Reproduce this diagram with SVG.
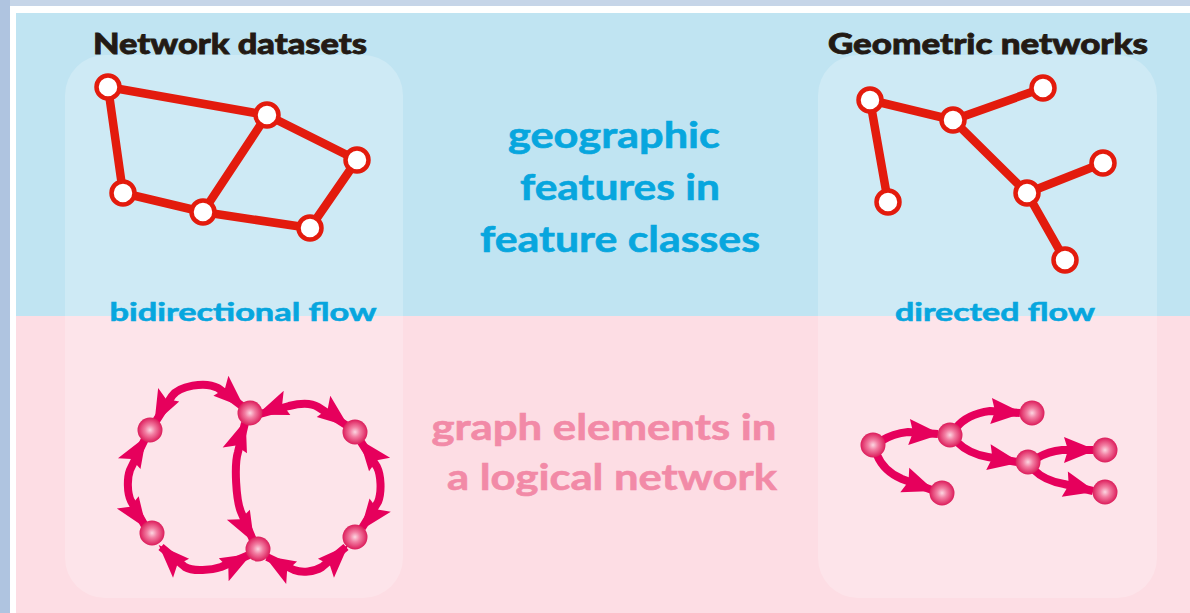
<svg xmlns="http://www.w3.org/2000/svg" width="1190" height="613" viewBox="0 0 1190 613">
  <style>
    .title { font-family: Lato, "Open Sans", "Liberation Sans", sans-serif; font-weight: 900; fill: #231a14; stroke: #231a14; stroke-width: 0.8; font-size: 29px; }
    .blue { font-family: Lato, "Open Sans", "Liberation Sans", sans-serif; font-weight: 700; fill: #07a6de; stroke: #07a6de; stroke-width: 0.6; }
    .pink { font-family: Lato, "Open Sans", "Liberation Sans", sans-serif; font-weight: 700; fill: #f28aa7; stroke: #f28aa7; stroke-width: 0.6; }
    .big { font-size: 36px; }
    .flow { font-size: 25px; }
    .edge { fill: none; stroke: #e31b0d; stroke-width: 8.5; stroke-linecap: round; }
    .junc { fill: #ffffff; stroke: #e31b0d; stroke-width: 4.5; }
    .arc { fill: none; stroke: #e6005c; stroke-width: 8; stroke-linejoin: round; }
    .ball { fill: url(#ballFill); }
    .panel { fill: #ffffff; fill-opacity: 0.22; }
    .head { fill: #e6005c; }
  </style>
  <defs>
    <radialGradient id="ballFill" cx="50%" cy="50%" r="50%">
      <stop offset="0" stop-color="#fcd6e1"/>
      <stop offset="0.4" stop-color="#f27ea2"/>
      <stop offset="1" stop-color="#dc1c5b"/>
    </radialGradient>
    <!-- two-way arrowheads: wider barb on the -y or on the +y side of the marker axis -->
    <marker id="headNeg" viewBox="-40 -25 50 50" refX="0" refY="0" markerWidth="50" markerHeight="50" markerUnits="userSpaceOnUse" orient="auto-start-reverse">
      <path class="head" d="M3,0 L-29,-16 L-24,-3.5 L-29,9 Z"/>
    </marker>
    <marker id="headPos" viewBox="-40 -25 50 50" refX="0" refY="0" markerWidth="50" markerHeight="50" markerUnits="userSpaceOnUse" orient="auto-start-reverse">
      <path class="head" d="M3,0 L-29,16 L-24,3.5 L-29,-9 Z"/>
    </marker>
    <!-- one-way arrowhead -->
    <marker id="headFwd" viewBox="-40 -25 50 50" refX="0" refY="0" markerWidth="50" markerHeight="50" markerUnits="userSpaceOnUse" orient="auto">
      <path class="head" d="M3,0 L-29,-13 L-25,0 L-29,13 Z"/>
    </marker>
  </defs>

  <!-- page border and backdrop -->
  <rect x="0" y="0" width="1190" height="613" fill="#afc4e0"/>
  <rect x="10" y="0" width="1180" height="6" fill="#c6d5e8"/>
  <rect x="10" y="6" width="1180" height="607" fill="#ffffff"/>
  <rect x="16" y="13" width="1174" height="303" fill="#c0e4f2"/>
  <rect x="16" y="316" width="1174" height="297" fill="#fddde4"/>

  <!-- translucent column panels -->
  <rect class="panel" x="65" y="55" width="338" height="543" rx="40"/>
  <rect class="panel" x="818" y="55" width="339" height="543" rx="40"/>

  <!-- headings and captions -->
  <text class="title" x="230" y="54" text-anchor="middle" textLength="274" lengthAdjust="spacingAndGlyphs">Network datasets</text>
  <text class="title" x="988" y="54" text-anchor="middle" textLength="320" lengthAdjust="spacingAndGlyphs">Geometric networks</text>

  <text class="blue big" x="614" y="148" text-anchor="middle" textLength="212" lengthAdjust="spacingAndGlyphs">geographic</text>
  <text class="blue big" x="620" y="200" text-anchor="middle" textLength="200" lengthAdjust="spacingAndGlyphs">features in</text>
  <text class="blue big" x="620" y="252" text-anchor="middle" textLength="280" lengthAdjust="spacingAndGlyphs">feature classes</text>

  <text class="blue flow" x="243" y="321" text-anchor="middle" textLength="267" lengthAdjust="spacingAndGlyphs">bidirectional flow</text>
  <text class="blue flow" x="995" y="321" text-anchor="middle" textLength="200" lengthAdjust="spacingAndGlyphs">directed flow</text>

  <text class="pink big" x="604" y="440" text-anchor="middle" textLength="345" lengthAdjust="spacingAndGlyphs">graph elements in</text>
  <text class="pink big" x="612" y="490" text-anchor="middle" textLength="330" lengthAdjust="spacingAndGlyphs">a logical network</text>

  <!-- connectors -->
  <g id="connectors">
    <!-- network dataset edges -->
    <g id="nd-edges">
      <line class="edge" x1="108" y1="87" x2="267" y2="115"/>
      <line class="edge" x1="108" y1="87" x2="123" y2="193"/>
      <line class="edge" x1="123" y1="193" x2="203" y2="212"/>
      <line class="edge" x1="203" y1="212" x2="267" y2="115"/>
      <line class="edge" x1="267" y1="115" x2="357" y2="160"/>
      <line class="edge" x1="357" y1="160" x2="310" y2="228"/>
      <line class="edge" x1="203" y1="212" x2="310" y2="228"/>
    </g>
    <!-- geometric network edges -->
    <g id="gn-edges">
      <line class="edge" x1="870" y1="100" x2="953" y2="120"/>
      <line class="edge" x1="953" y1="120" x2="1043" y2="88"/>
      <line class="edge" x1="870" y1="100" x2="888" y2="202"/>
      <line class="edge" x1="953" y1="120" x2="1027" y2="193"/>
      <line class="edge" x1="1027" y1="193" x2="1103" y2="163"/>
      <line class="edge" x1="1027" y1="193" x2="1065" y2="260"/>
    </g>
    <!-- bidirectional logical edges: straight head runs at both ends, curved middle -->
    <g id="bi-edges">
      <path class="arc" d="M156,421 L172,396 C179,386 205,381 218,388 L242,406" marker-start="url(#headPos)" marker-end="url(#headNeg)"/>
      <path class="arc" d="M253,540 L241,512 C236,500 234,465 238,452 L245,423" marker-start="url(#headPos)" marker-end="url(#headNeg)"/>
      <path class="arc" d="M145,526 L131,501 C127,493 127,478 130,470 L145,439" marker-start="url(#headPos)" marker-end="url(#headNeg)"/>
      <path class="arc" d="M249,555 L221,567 C212,570 193,572 185,567 L161,547" marker-start="url(#headPos)" marker-end="url(#headNeg)"/>
      <path class="arc" d="M260,414 L289,406 C297,404 310,402 318,407 L346,425" marker-start="url(#headPos)" marker-end="url(#headNeg)"/>
      <path class="arc" d="M361,442 L377,467 C381,475 382,492 378,502 L362,528" marker-start="url(#headPos)" marker-end="url(#headNeg)"/>
      <path class="arc" d="M346,547 L322,567 C314,572 302,573 294,570 L267,557" marker-start="url(#headPos)" marker-end="url(#headNeg)"/>
    </g>
    <!-- directed logical edges -->
    <g id="dir-edges">
      <path class="arc" d="M881,441 C889,436 898,433 908,432 L938,434" marker-end="url(#headFwd)"/>
      <path class="arc" d="M877,455 C882,467 890,474 902,479 L932,490" marker-end="url(#headFwd)"/>
      <path class="arc" d="M956,428 C963,419 975,413 990,411 L1020,413" marker-end="url(#headFwd)"/>
      <path class="arc" d="M957,442 C965,450 976,455 988,457 L1017,462" marker-end="url(#headFwd)"/>
      <path class="arc" d="M1037,458 C1044,454 1052,451 1062,450 L1093,450" marker-end="url(#headFwd)"/>
      <path class="arc" d="M1034,470 C1042,478 1052,482 1064,484 L1093,491" marker-end="url(#headFwd)"/>
    </g>
  </g>

  <!-- network dataset junctions -->
  <g id="nd-a"><circle class="junc" cx="108" cy="87" r="11.5"/></g>
  <g id="nd-b"><circle class="junc" cx="267" cy="115" r="11.5"/></g>
  <g id="nd-c"><circle class="junc" cx="357" cy="160" r="11.5"/></g>
  <g id="nd-d"><circle class="junc" cx="123" cy="193" r="11.5"/></g>
  <g id="nd-e"><circle class="junc" cx="203" cy="212" r="11.5"/></g>
  <g id="nd-f"><circle class="junc" cx="310" cy="228" r="11.5"/></g>

  <!-- geometric network junctions -->
  <g id="gn-a"><circle class="junc" cx="870" cy="100" r="11.5"/></g>
  <g id="gn-b"><circle class="junc" cx="953" cy="120" r="11.5"/></g>
  <g id="gn-c"><circle class="junc" cx="1043" cy="88" r="11.5"/></g>
  <g id="gn-d"><circle class="junc" cx="888" cy="202" r="11.5"/></g>
  <g id="gn-e"><circle class="junc" cx="1027" cy="193" r="11.5"/></g>
  <g id="gn-f"><circle class="junc" cx="1103" cy="163" r="11.5"/></g>
  <g id="gn-g"><circle class="junc" cx="1065" cy="260" r="11.5"/></g>

  <!-- bidirectional graph elements -->
  <g id="bi-1"><circle class="ball" cx="150" cy="430" r="12.5"/></g>
  <g id="bi-2"><circle class="ball" cx="250" cy="413" r="12.5"/></g>
  <g id="bi-3"><circle class="ball" cx="355" cy="432" r="12.5"/></g>
  <g id="bi-4"><circle class="ball" cx="152" cy="533" r="12.5"/></g>
  <g id="bi-5"><circle class="ball" cx="258" cy="549" r="12.5"/></g>
  <g id="bi-6"><circle class="ball" cx="355" cy="537" r="12.5"/></g>

  <!-- directed graph elements -->
  <g id="dir-1"><circle class="ball" cx="873" cy="445" r="12.5"/></g>
  <g id="dir-2"><circle class="ball" cx="950" cy="435" r="12.5"/></g>
  <g id="dir-3"><circle class="ball" cx="1032" cy="413" r="12.5"/></g>
  <g id="dir-4"><circle class="ball" cx="942" cy="493" r="12.5"/></g>
  <g id="dir-5"><circle class="ball" cx="1028" cy="462" r="12.5"/></g>
  <g id="dir-6"><circle class="ball" cx="1105" cy="450" r="12.5"/></g>
  <g id="dir-7"><circle class="ball" cx="1105" cy="492" r="12.5"/></g>
</svg>
